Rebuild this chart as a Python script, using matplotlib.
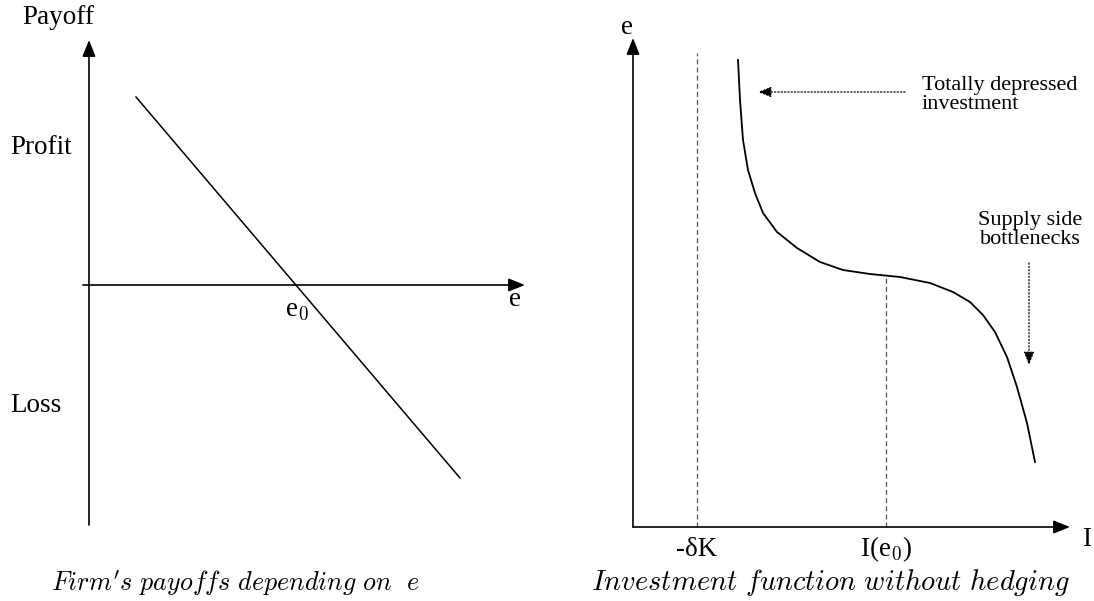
import numpy as np
import matplotlib
matplotlib.use("Agg")
import matplotlib.pyplot as plt

plt.rcParams['font.family'] = ['Liberation Serif', 'DejaVu Serif']
plt.rcParams['mathtext.fontset'] = 'cm'

# left panel: straight payoff line (e, payoff), origin where the axes cross
payoff_e = [47, 371]
payoff_val = [188, -193]
e0 = 208

# right panel: investment function (I, e)
inv_I = [105, 107, 110, 115, 122, 130, 144, 164, 187, 210, 237, 247, 267,
         297, 320, 337, 350, 362, 374, 384, 394, 402]
inv_e = [467, 427, 387, 357, 334, 314, 295, 279, 265, 257, 253, 252, 250,
         244, 235, 225, 212, 195, 170, 140, 104, 65]
minus_dK = 64
I_e0 = 253
e_at_I0 = 251

W, H = 1094, 601
fig = plt.figure(figsize=(W / 100, H / 100), dpi=100)

def panel(ox, oy):
    # axes spanning the whole figure, 1 data unit = 1 pixel, origin at (ox, oy)
    ax = fig.add_axes([0, 0, 1, 1])
    ax.set_xlim(-ox, W - ox)
    ax.set_ylim(-(H - oy), oy)
    ax.axis('off')
    ax.patch.set_alpha(0)
    return ax

def axis_arrow(ax, x0, y0, x1, y1):
    ax.annotate('', xy=(x1, y1), xytext=(x0, y0),
                arrowprops=dict(arrowstyle='-|>,head_length=0.5,head_width=0.2',
                                color='black', lw=1.2, shrinkA=0, shrinkB=0,
                                mutation_scale=20))

# ---------------- left: firm's payoffs ----------------
ax1 = panel(89, 285)
axis_arrow(ax1, 0, -240, 0, 245)
axis_arrow(ax1, -6, 0, 436, 0)
ax1.plot(payoff_e, payoff_val, color='black', lw=1.1)

ax1.text(-31, 267, 'Payoff', fontsize=19.5, ha='center', va='center')
ax1.text(-79, 137, 'Profit', fontsize=19.5, ha='left', va='center')
ax1.text(-79, -121, 'Loss', fontsize=19.5, ha='left', va='center')
ax1.text(e0, -25, r'e$_0$', fontsize=19.5, ha='center', va='center')
ax1.text(426, -14, 'e', fontsize=19.5, ha='center', va='center')
ax1.text(146, -298, r"$\mathit{Firm's\ payoffs\ depending\ on\ \ e}$",
         fontsize=18.8, ha='center', va='center')

# ---------------- right: investment function ----------------
ax2 = panel(633, 527)
axis_arrow(ax2, 0, 0, 0, 489)
axis_arrow(ax2, 0, 0, 437, 0)
ax2.plot([minus_dK, minus_dK], [0, 474], color='#555555', lw=0.9, ls=(0, (4, 2.5)))
ax2.plot([I_e0, I_e0], [0, e_at_I0], color='#555555', lw=0.9, ls=(0, (4, 2.5)))
ax2.plot(inv_I, inv_e, color='black', lw=1.3, solid_joinstyle='round')

ax2.text(-6, 500, 'e', fontsize=19.5, ha='center', va='center')
ax2.text(454, -13, 'I', fontsize=19.5, ha='center', va='center')
ax2.text(minus_dK, -22, '-δK', fontsize=19.5, ha='center', va='center')
ax2.text(I_e0, -22, r'I(e$_0$)', fontsize=19.5, ha='center', va='center')

ax2.text(289, 432, 'Totally depressed\ninvestment', fontsize=16,
         ha='left', va='center', linespacing=1.0)
ax2.annotate('', xy=(125, 435), xytext=(272, 435),
             arrowprops=dict(arrowstyle='-|>,head_length=0.5,head_width=0.2',
                             color='black', lw=0.9, ls=':', shrinkA=0, shrinkB=0,
                             mutation_scale=16))
ax2.text(397, 297, 'Supply side\nbottlenecks', fontsize=16,
         ha='center', va='center', linespacing=1.0)
ax2.annotate('', xy=(396, 162), xytext=(396, 264),
             arrowprops=dict(arrowstyle='-|>,head_length=0.5,head_width=0.2',
                             color='black', lw=0.9, ls=':', shrinkA=0, shrinkB=0,
                             mutation_scale=16))
ax2.text(197, -55, r'$\mathit{Investment\ function\ without\ hedging}$',
         fontsize=20.5, ha='center', va='center')

fig.savefig('out.png', dpi=100, facecolor='white')
